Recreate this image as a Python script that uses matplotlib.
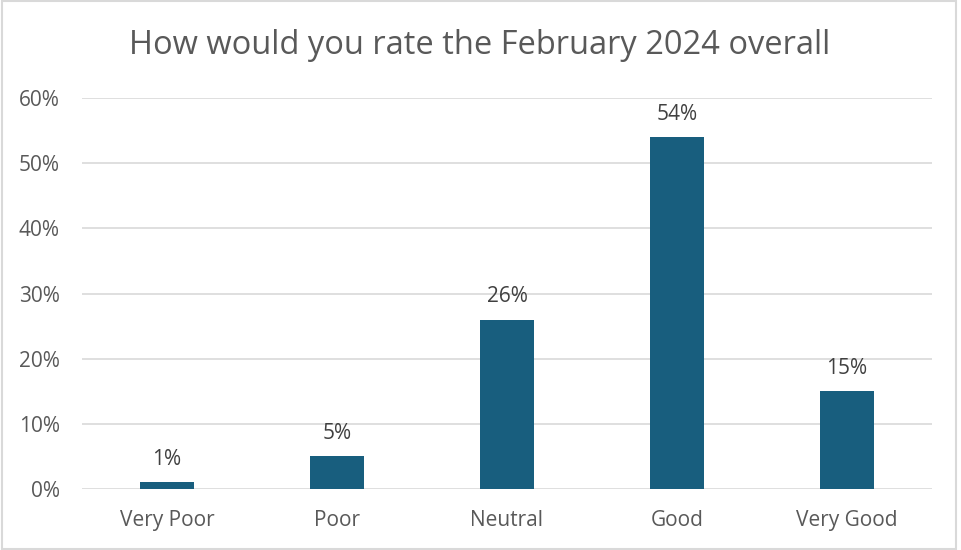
import matplotlib.pyplot as plt
from matplotlib.patches import Rectangle

categories = ["Very Poor", "Poor", "Neutral", "Good", "Very Good"]
values = [1, 5, 26, 54, 15]
yticks = [0, 10, 20, 30, 40, 50, 60]

plt.rcParams['font.family'] = ['Open Sans', 'DejaVu Sans']
text_color = "#595959"
bar_color = "#185e7e"

fig = plt.figure(figsize=(9.61, 5.5), dpi=100)
ax = fig.add_axes([82 / 961, 61 / 550, 850 / 961, 391 / 550])

x = range(len(categories))
ax.bar(x, values, width=0.32, color=bar_color, zorder=3)
for xi, v in zip(x, values):
    ax.text(xi, v + 1.9, f"{v}%", ha="center", va="bottom", fontsize=15, color="#404040")

ax.set_xlim(-0.5, len(categories) - 0.5)
ax.set_ylim(0, 60)
ax.set_yticks(yticks)
ax.set_yticklabels([f"{t}%" for t in yticks])
ax.set_xticks(list(x))
ax.set_xticklabels(categories)
ax.tick_params(axis="both", length=0, labelsize=15, labelcolor=text_color)
ax.tick_params(axis="y", pad=16)
ax.tick_params(axis="x", pad=15)
ax.grid(axis="y", color="#d9d9d9", linewidth=1.2, zorder=0)
for s in ax.spines.values():
    s.set_visible(False)

fig.text(480 / 961, 1 - 46 / 550, "How would you rate the February 2024 overall",
         ha="center", va="center", fontsize=23.5, color=text_color)

fig.patches.append(Rectangle((0.002, 0.002), 0.993, 0.996, transform=fig.transFigure,
                             fill=False, edgecolor="#d9d9d9", linewidth=1.5))

fig.savefig("out.png", dpi=100)
